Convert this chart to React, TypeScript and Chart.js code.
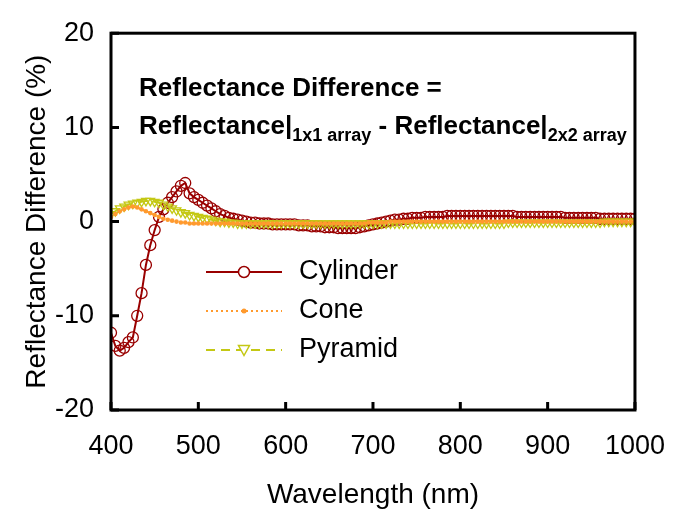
import React, { useEffect, useRef } from "react";
import { Chart, registerables } from "chart.js";

Chart.register(...registerables);

const FONT = "'Liberation Sans', Arial, Helvetica, sans-serif";

const wavelengths: number[] = [];
for (let w = 400; w <= 1000; w += 5) wavelengths.push(w);

const cylinder = [
  -11.8, -13.2, -13.7, -13.4, -12.8, -12.3, -10.0, -7.6, -4.6, -2.5,
  -0.9, 0.5, 1.3, 2.0, 2.6, 3.2, 3.8, 4.1, 3.0, 2.6,
  2.3, 2.0, 1.7, 1.4, 1.1, 0.8, 0.6, 0.4, 0.3, 0.2,
  0.1, 0.0, -0.1, -0.1, -0.2, -0.2, -0.2, -0.3, -0.3, -0.3,
  -0.3, -0.3, -0.3, -0.4, -0.4, -0.4, -0.5, -0.5, -0.5, -0.6,
  -0.6, -0.6, -0.7, -0.7, -0.7, -0.7, -0.7, -0.6, -0.5, -0.4,
  -0.3, -0.2, -0.1, 0.0, 0.1, 0.2, 0.2, 0.3, 0.3, 0.4,
  0.4, 0.4, 0.5, 0.5, 0.5, 0.5, 0.5, 0.6, 0.6, 0.6,
  0.6, 0.6, 0.6, 0.6, 0.6, 0.6, 0.6, 0.6, 0.6, 0.6,
  0.6, 0.6, 0.6, 0.5, 0.5, 0.5, 0.5, 0.5, 0.5, 0.5,
  0.5, 0.5, 0.5, 0.5, 0.4, 0.4, 0.4, 0.4, 0.4, 0.4,
  0.4, 0.4, 0.3, 0.3, 0.3, 0.3, 0.3, 0.3, 0.3, 0.3,
  0.3,
];

const cone = [
  0.5, 0.8, 1.1, 1.3, 1.5, 1.6, 1.5, 1.3, 1.1, 0.9,
  0.7, 0.5, 0.3, 0.2, 0.1, 0.0, -0.1, -0.1, -0.2, -0.2,
  -0.2, -0.2, -0.2, -0.2, -0.2, -0.2, -0.2, -0.2, -0.2, -0.2,
  -0.2, -0.2, -0.2, -0.2, -0.2, -0.2, -0.2, -0.2, -0.2, -0.2,
  -0.2, -0.2, -0.2, -0.2, -0.2, -0.2, -0.2, -0.2, -0.2, -0.2,
  -0.2, -0.2, -0.2, -0.2, -0.2, -0.2, -0.2, -0.2, -0.2, -0.1,
  -0.1, -0.1, -0.1, -0.1, 0.0, 0.0, 0.0, 0.0, 0.0, 0.0,
  0.0, 0.0, 0.0, 0.0, 0.0, 0.0, 0.0, 0.0, 0.0, 0.0,
  0.0, 0.0, 0.0, 0.0, 0.0, 0.0, 0.0, 0.0, 0.0, 0.0,
  0.0, 0.0, 0.0, 0.0, 0.0, 0.0, 0.0, 0.0, 0.0, 0.0,
  0.0, 0.0, 0.0, 0.0, 0.0, 0.0, 0.0, 0.0, 0.0, 0.0,
  0.0, 0.0, 0.0, 0.0, 0.0, 0.0, 0.0, 0.0, 0.0, 0.0,
  0.0,
];

const pyramid = [
  0.8, 1.1, 1.4, 1.6, 1.8, 1.9, 2.0, 2.1, 2.2, 2.2,
  2.1, 2.0, 1.8, 1.6, 1.4, 1.2, 1.0, 0.9, 0.7, 0.6,
  0.5, 0.4, 0.3, 0.2, 0.1, 0.0, 0.0, -0.1, -0.1, -0.2,
  -0.2, -0.2, -0.2, -0.2, -0.2, -0.2, -0.2, -0.2, -0.2, -0.2,
  -0.2, -0.2, -0.2, -0.2, -0.2, -0.2, -0.2, -0.2, -0.2, -0.2,
  -0.2, -0.2, -0.2, -0.2, -0.2, -0.2, -0.2, -0.2, -0.2, -0.2,
  -0.2, -0.2, -0.2, -0.2, -0.2, -0.2, -0.2, -0.2, -0.2, -0.2,
  -0.2, -0.2, -0.2, -0.2, -0.2, -0.2, -0.2, -0.2, -0.2, -0.2,
  -0.2, -0.2, -0.2, -0.2, -0.2, -0.2, -0.2, -0.2, -0.2, -0.2,
  -0.2, -0.1, -0.1, -0.1, -0.1, -0.1, -0.1, -0.1, -0.1, -0.1,
  -0.1, -0.1, -0.1, -0.1, -0.1, -0.1, -0.1, -0.1, -0.1, -0.1,
  -0.1, -0.1, -0.1, 0.0, 0.0, 0.0, 0.0, 0.0, 0.0, 0.0,
  0.0,
];

const xTicks = [400, 500, 600, 700, 800, 900, 1000];
const yTicks = [-20, -10, 0, 10, 20];
const seriesNames = ["Cylinder", "Cone", "Pyramid"];
const COLORS = { cylinder: "#990000", cone: "#FF9A2E", pyramid: "#C4C814" };

const framePlugin = {
  id: "frame",
  afterDatasetsDraw(chart: any) {
    const { ctx, chartArea: a, scales } = chart;
    ctx.save();
    ctx.strokeStyle = "#000";
    ctx.lineWidth = 3;
    ctx.strokeRect(a.left, a.top, a.right - a.left, a.bottom - a.top);
    // inward ticks
    const tl = 8;
    ctx.beginPath();
    xTicks.forEach((v) => {
      const x = scales.x.getPixelForValue(v);
      ctx.moveTo(x, a.bottom);
      ctx.lineTo(x, a.bottom - tl);
    });
    yTicks.forEach((v) => {
      const y = scales.y.getPixelForValue(v);
      ctx.moveTo(a.left, y);
      ctx.lineTo(a.left + tl, y);
    });
    ctx.stroke();

    // annotation
    ctx.fillStyle = "#000";
    ctx.textBaseline = "alphabetic";
    ctx.textAlign = "left";
    const big = `bold 26px ${FONT}`;
    const small = `bold 18px ${FONT}`;
    const x0 = 139;
    ctx.font = big;
    ctx.fillText("Reflectance Difference =", x0, 96);
    let x = x0;
    const y2 = 134;
    const parts: [string, boolean][] = [
      ["Reflectance|", false],
      ["1x1 array", true],
      [" - Reflectance|", false],
      ["2x2 array", true],
    ];
    parts.forEach(([t, sub]) => {
      ctx.font = sub ? small : big;
      ctx.fillText(t, x, sub ? y2 + 7 : y2);
      x += ctx.measureText(t).width;
    });

    // legend
    const lx0 = 206;
    const lx1 = 282;
    const tx = 299;
    const rows = [272, 311, 350];
    ctx.font = `27px ${FONT}`;
    ctx.textBaseline = "middle";
    rows.forEach((ry, i) => {
      ctx.save();
      ctx.lineWidth = 2;
      if (i === 0) {
        ctx.strokeStyle = COLORS.cylinder;
        ctx.setLineDash([]);
      } else if (i === 1) {
        ctx.strokeStyle = COLORS.cone;
        ctx.setLineDash([2, 3]);
      } else {
        ctx.strokeStyle = COLORS.pyramid;
        ctx.setLineDash([9, 6]);
      }
      ctx.beginPath();
      ctx.moveTo(lx0, ry);
      ctx.lineTo(lx1, ry);
      ctx.stroke();
      ctx.setLineDash([]);
      const mx = (lx0 + lx1) / 2;
      if (i === 0) {
        ctx.fillStyle = "#fff";
        ctx.lineWidth = 1.5;
        ctx.beginPath();
        ctx.arc(mx, ry, 5.5, 0, Math.PI * 2);
        ctx.fill();
        ctx.stroke();
      } else if (i === 1) {
        ctx.fillStyle = COLORS.cone;
        ctx.beginPath();
        ctx.arc(mx, ry, 2.5, 0, Math.PI * 2);
        ctx.fill();
      } else {
        ctx.fillStyle = "#fff";
        ctx.lineWidth = 1.5;
        ctx.beginPath();
        ctx.moveTo(mx - 5.5, ry - 4.5);
        ctx.lineTo(mx + 5.5, ry - 4.5);
        ctx.lineTo(mx, ry + 5.5);
        ctx.closePath();
        ctx.fill();
        ctx.stroke();
      }
      ctx.restore();
      ctx.fillStyle = "#000";
      ctx.fillText(seriesNames[i], tx, ry);
    });
    ctx.restore();
  },
};

export default function App() {
  const ref = useRef<HTMLCanvasElement | null>(null);
  useEffect(() => {
    document.body.style.margin = "0";
    const canvas = ref.current;
    if (!canvas) return;
    const mk = (arr: number[]) => wavelengths.map((w, i) => ({ x: w, y: arr[i] }));
    const chart = new Chart(canvas, {
      type: "line",
      data: {
        datasets: [
          {
            label: seriesNames[0],
            data: mk(cylinder),
            borderColor: COLORS.cylinder,
            backgroundColor: "rgba(255,255,255,0)",
            borderWidth: 2,
            pointStyle: "circle",
            pointRadius: 5.5,
            pointBorderWidth: 1.3,
            pointBorderColor: COLORS.cylinder,
            pointBackgroundColor: "rgba(255,255,255,0)",
            tension: 0,
            order: 3,
          },
          {
            label: seriesNames[2],
            data: mk(pyramid),
            borderColor: COLORS.pyramid,
            backgroundColor: "rgba(255,255,255,0)",
            borderWidth: 2,
            borderDash: [9, 6],
            pointStyle: "triangle",
            rotation: 180,
            pointRadius: 5,
            pointBorderWidth: 1.3,
            pointBorderColor: COLORS.pyramid,
            pointBackgroundColor: "rgba(255,255,255,0)",
            tension: 0,
            order: 2,
          },
          {
            label: seriesNames[1],
            data: mk(cone),
            borderColor: COLORS.cone,
            backgroundColor: COLORS.cone,
            borderWidth: 2,
            borderDash: [2, 3],
            pointStyle: "circle",
            pointRadius: 2.3,
            pointBorderWidth: 0,
            pointBackgroundColor: COLORS.cone,
            tension: 0,
            order: 1,
          },
        ],
      },
      options: {
        animation: false,
        responsive: false,
        devicePixelRatio: 1,
        layout: { padding: { top: 30, right: 42, left: 0, bottom: 0 } },
        plugins: { legend: { display: false }, tooltip: { enabled: false } },
        scales: {
          x: {
            type: "linear",
            min: 400,
            max: 1000,
            afterBuildTicks: (s: any) => {
              s.ticks = xTicks.map((v) => ({ value: v }));
            },
            afterFit: (s: any) => {
              s.height = 116;
            },
            grid: { display: false, drawTicks: false },
            border: { display: false },
            ticks: {
              color: "#000",
              font: { family: FONT, size: 27 },
              padding: 20,
              maxRotation: 0,
              autoSkip: false,
              callback: (v: any) => String(v),
            },
            title: {
              display: true,
              text: "Wavelength (nm)",
              color: "#000",
              font: { family: FONT, size: 28 },
              padding: { top: 0, bottom: 14 },
            },
          },
          y: {
            type: "linear",
            min: -20,
            max: 20,
            afterBuildTicks: (s: any) => {
              s.ticks = yTicks.map((v) => ({ value: v }));
            },
            afterFit: (s: any) => {
              s.width = 111;
            },
            grid: { display: false, drawTicks: false },
            border: { display: false },
            ticks: {
              color: "#000",
              font: { family: FONT, size: 27 },
              padding: 17,
              autoSkip: false,
              callback: (v: any) => String(v),
            },
            title: {
              display: true,
              text: "Reflectance Difference (%)",
              color: "#000",
              font: { family: FONT, size: 28 },
              padding: { top: 20, bottom: 0 },
            },
          },
        },
      },
      plugins: [framePlugin],
    } as any);
    return () => chart.destroy();
  }, []);
  return <canvas ref={ref} width={685} height={526} style={{ display: "block" }} />;
}
